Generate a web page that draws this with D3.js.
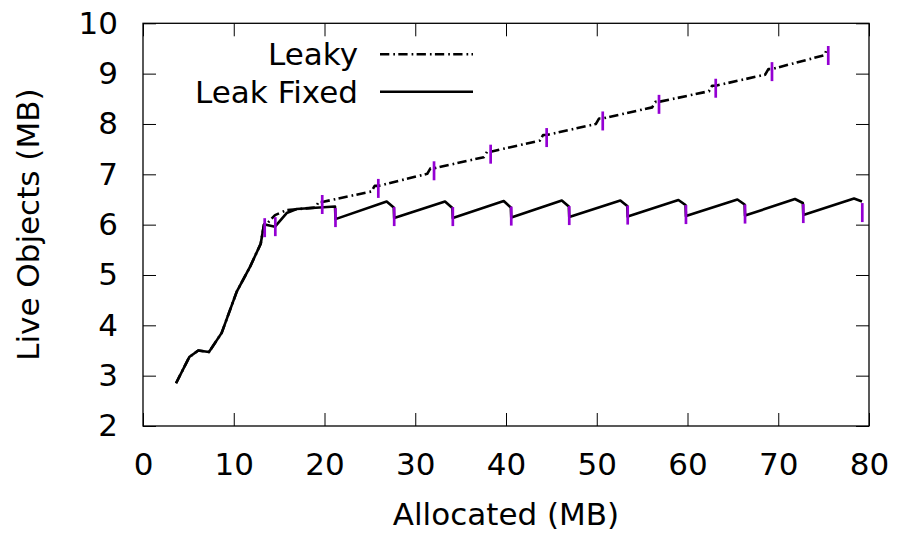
<!DOCTYPE html>
<html>
<head>
<meta charset="utf-8">
<script src="https://cdn.jsdelivr.net/npm/d3@7"></script>
<style>
  html, body { margin: 0; padding: 0; background: #fff; }
  svg { display: block; }
  text { font-family: "DejaVu Sans", sans-serif; fill: #000; }
</style>
</head>
<body>
<svg id="chart" width="897" height="536"></svg>
<script>
// Heap live size (MB) against total allocated (MB), two runs of the same program.
const leakyX = [3.64, 5.10, 6.09, 7.27, 8.67, 10.33, 11.79, 12.97, 13.33, 13.55, 14.55, 15.83, 19.0, 19.35, 19.75,
  25.18, 25.53, 25.93, 31.32, 31.67, 32.07, 37.56, 37.91, 38.31, 43.73, 44.08, 44.48,
  49.91, 50.26, 50.66, 56.11, 56.46, 56.86, 62.36, 62.71, 63.11, 68.56, 68.91, 69.31, 75.15, 75.34];
const leakyY = [2.85, 3.37, 3.50, 3.47, 3.85, 4.67, 5.16, 5.62, 6.00, 6.00, 6.19, 6.29, 6.34, 6.45, 6.45,
  6.66, 6.77, 6.77, 7.01, 7.12, 7.12, 7.34, 7.45, 7.45, 7.67, 7.78, 7.78,
  8.00, 8.11, 8.11, 8.33, 8.44, 8.44, 8.65, 8.76, 8.76, 8.98, 9.09, 9.09, 9.37, 9.50];

const fixedX = [3.64, 5.10, 6.09, 7.27, 8.67, 10.33, 11.79, 12.97, 13.33, 13.55, 14.55, 15.83, 16.93, 21.16,
  21.21, 26.85, 27.63, 27.68, 33.28, 34.09, 34.14, 39.75, 40.53, 40.58, 46.15, 46.92,
  46.97, 52.60, 53.36, 53.41, 59.00, 59.78, 59.83, 65.50, 66.29, 66.34, 71.84, 72.71,
  72.76, 78.35, 79.23];
const fixedY = [2.85, 3.37, 3.50, 3.47, 3.85, 4.67, 5.16, 5.62, 6.00, 6.00, 5.96, 6.23, 6.31, 6.36,
  6.11, 6.46, 6.34, 6.13, 6.46, 6.33, 6.13, 6.47, 6.34, 6.14, 6.48, 6.36,
  6.15, 6.48, 6.37, 6.16, 6.49, 6.39, 6.17, 6.50, 6.40, 6.18, 6.51, 6.43,
  6.19, 6.52, 6.46];

// Garbage collection events, marked on each curve
const gcLeakyX = [19.75, 25.93, 32.07, 38.31, 44.48, 50.66, 56.86, 63.11, 69.31, 75.51];
const gcLeakyY = [6.40, 6.72, 7.07, 7.40, 7.73, 8.06, 8.39, 8.71, 9.04, 9.36];
const gcFixedX = [13.41, 14.58, 21.21, 27.68, 34.14, 40.58, 46.97, 53.41, 59.83, 66.34, 72.76, 79.26];
const gcFixedY = [5.94, 5.96, 6.14, 6.16, 6.16, 6.17, 6.18, 6.19, 6.20, 6.21, 6.22, 6.24];

const xTicks = [0, 10, 20, 30, 40, 50, 60, 70, 80];
const yTicks = [2, 3, 4, 5, 6, 7, 8, 9, 10];
const seriesNames = ["Leaky", "Leak Fixed"];
const xTitle = "Allocated (MB)";
const yTitle = "Live Objects (MB)";

const svg = d3.select("#chart");
const W = 897, H = 536;
const plot = { left: 143, right: 869, top: 23.3, bottom: 426 };
const FONT = 31;
const GC_COLOR = "#9400d3";

svg.append("rect").attr("width", W).attr("height", H).attr("fill", "#fff");

const x = d3.scaleLinear().domain([0, 80]).range([plot.left, plot.right]);
const y = d3.scaleLinear().domain([2, 10]).range([plot.bottom, plot.top]);

// Axes with inward ticks on all four sides
function styleAxis(g, labels) {
  g.select(".domain").remove();
  g.selectAll(".tick line").attr("stroke", "#000").attr("stroke-width", 1);
  g.selectAll(".tick text").style("font-size", FONT + "px").attr("fill", "#000");
  if (!labels) g.selectAll(".tick text").remove();
}
svg.append("g").attr("transform", `translate(0,${plot.bottom})`)
  .call(d3.axisBottom(x).tickValues(xTicks).tickSize(-13).tickPadding(27).tickFormat(d3.format("d")))
  .call(g => styleAxis(g, true));
svg.append("g").attr("transform", `translate(0,${plot.top})`)
  .call(d3.axisTop(x).tickValues(xTicks).tickSize(-13))
  .call(g => styleAxis(g, false));
svg.append("g").attr("transform", `translate(${plot.left},0)`)
  .call(d3.axisLeft(y).tickValues(yTicks).tickSize(-13).tickPadding(25).tickFormat(d3.format("d")))
  .call(g => styleAxis(g, true));
svg.append("g").attr("transform", `translate(${plot.right},0)`)
  .call(d3.axisRight(y).tickValues(yTicks).tickSize(-13))
  .call(g => styleAxis(g, false));

svg.append("rect")
  .attr("x", plot.left).attr("y", plot.top)
  .attr("width", plot.right - plot.left).attr("height", plot.bottom - plot.top)
  .attr("fill", "none").attr("stroke", "#000").attr("stroke-width", 1.3);

// Axis titles
svg.append("text")
  .attr("x", (plot.left + plot.right) / 2).attr("y", 525)
  .attr("text-anchor", "middle").style("font-size", FONT + "px")
  .text(xTitle);
svg.append("text")
  .attr("transform", `translate(39,${(plot.top + plot.bottom) / 2}) rotate(-90)`)
  .attr("text-anchor", "middle").style("font-size", FONT + "px")
  .text(yTitle);

// Curves
const line = d3.line().x(d => x(d[0])).y(d => y(d[1]));
const leaky = d3.zip(leakyX, leakyY);
const fixed = d3.zip(fixedX, fixedY);
const DASH = "9.3,4,1.7,3.3";

const curves = svg.append("g").attr("fill", "none").attr("stroke", "#000")
  .attr("stroke-width", 2.6).attr("stroke-linejoin", "round");
curves.append("path").attr("d", line(leaky)).attr("stroke-dasharray", DASH);
curves.append("path").attr("d", line(fixed));

// GC markers
const gc = d3.zip(gcLeakyX, gcLeakyY).concat(d3.zip(gcFixedX, gcFixedY));
svg.append("g").selectAll("line").data(gc).join("line")
  .attr("x1", d => x(d[0])).attr("x2", d => x(d[0]))
  .attr("y1", d => y(d[1]) - 9.5).attr("y2", d => y(d[1]) + 9.5)
  .attr("stroke", GC_COLOR).attr("stroke-width", 2.7);

// Legend
const legend = svg.append("g");
const legendRows = [
  { name: seriesNames[0], y: 54.3, dash: DASH },
  { name: seriesNames[1], y: 91.7, dash: null }
];
legendRows.forEach(r => {
  legend.append("text").attr("x", 358).attr("y", r.y).attr("dy", "0.36em")
    .attr("text-anchor", "end").style("font-size", FONT + "px").text(r.name);
  legend.append("line").attr("x1", 380).attr("x2", 473).attr("y1", r.y).attr("y2", r.y)
    .attr("stroke", "#000").attr("stroke-width", 2.6)
    .attr("stroke-dasharray", r.dash);
});
</script>
</body>
</html>
